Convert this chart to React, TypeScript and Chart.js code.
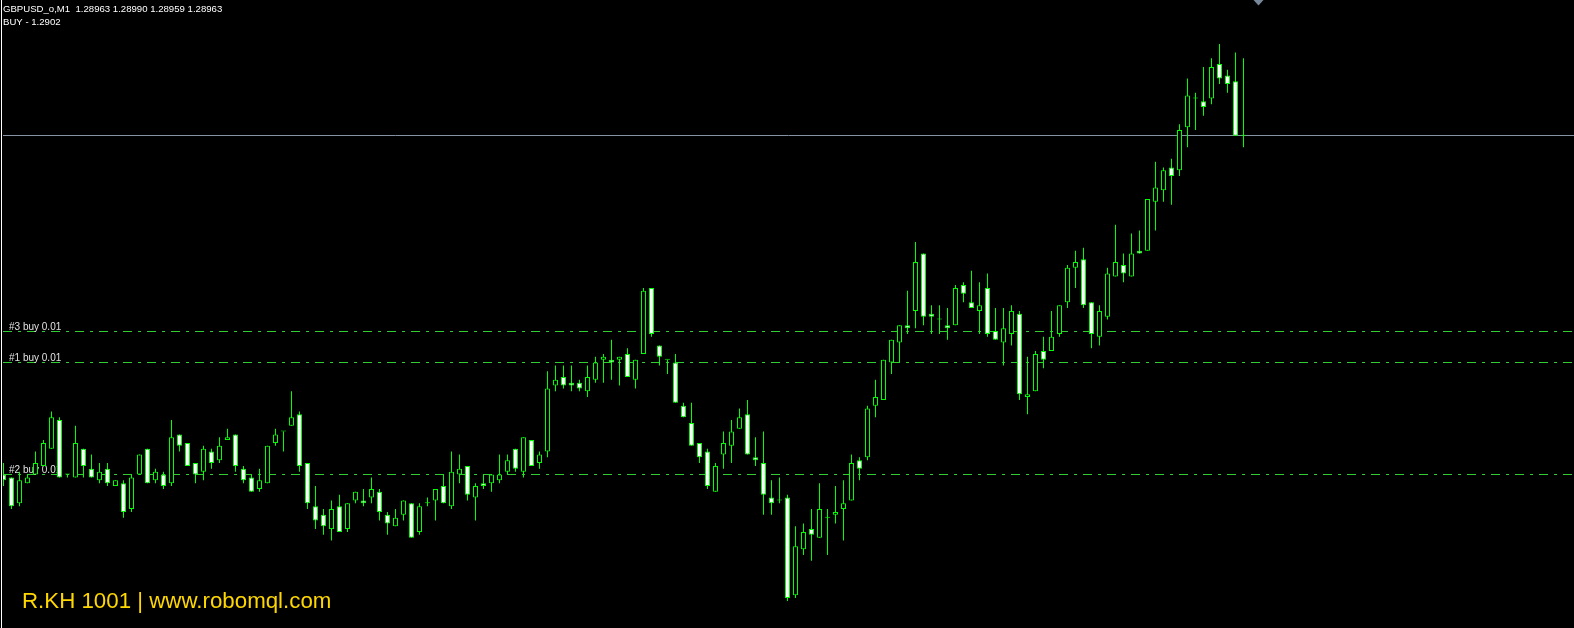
import React, { useEffect, useRef } from "react";
import { Chart, registerables } from "chart.js";

Chart.register(...registerables);

const symbolTitle = "GBPUSD_o,M1  1.28963 1.28990 1.28959 1.28963";
const commentText = "BUY - 1.2902";
const footerText = "R.KH 1001 | www.robomql.com";

const opens = [
  1.28845, 1.28844, 1.28835, 1.28842, 1.28845, 1.28848, 1.28854, 1.28864, 1.28845, 1.28844,
  1.28854, 1.28847, 1.28843, 1.28847, 1.28841, 1.28842, 1.28833, 1.28845, 1.28854, 1.28843,
  1.28845, 1.28842, 1.28859, 1.28856, 1.28849, 1.28846, 1.28853, 1.2885, 1.28857, 1.28859,
  1.28847, 1.28844, 1.2884, 1.28842, 1.28856, 1.2886, 1.28862, 1.28866, 1.28849, 1.28834,
  1.28831, 1.28826, 1.28834, 1.28826, 1.28836, 1.28836, 1.28837, 1.28839, 1.28831, 1.28827,
  1.28831, 1.28835, 1.28825, 1.28835, 1.28836, 1.28841, 1.28834, 1.28845, 1.28848, 1.28837,
  1.28842, 1.28842, 1.28843, 1.28846, 1.28854, 1.28846, 1.28857, 1.28849, 1.28853, 1.28876,
  1.28879, 1.28877, 1.28877, 1.28874, 1.28878, 1.28885, 1.28885, 1.28885, 1.28887, 1.28878,
  1.28887, 1.2891, 1.2889, 1.28885, 1.28884, 1.28869, 1.28863, 1.28856, 1.28853, 1.28839,
  1.28852, 1.28855, 1.28861, 1.28866, 1.28851, 1.28849, 1.28837, 1.28836, 1.28837, 1.28803,
  1.28819, 1.28826, 1.28823, 1.2883, 1.28831, 1.28833, 1.28836, 1.2885, 1.28851, 1.28869,
  1.28871, 1.28884, 1.28891, 1.28897, 1.28902, 1.28922, 1.28901, 1.28899, 1.28897, 1.28897,
  1.28911, 1.28905, 1.28902, 1.2891, 1.28895, 1.28891, 1.28894, 1.28901, 1.28872, 1.28874,
  1.28888, 1.28888, 1.28894, 1.28905, 1.28917, 1.2892, 1.28905, 1.28893, 1.289, 1.28914,
  1.28918, 1.28914, 1.28923, 1.28923, 1.2894, 1.28944, 1.28952, 1.28951, 1.28966, 1.28976,
  1.28975, 1.28976, 1.28988, 1.28984, 1.28982, 1.28963,
];

const highs = [
  1.28849, 1.28844, 1.28846, 1.28845, 1.28853, 1.28857, 1.28867, 1.28865, 1.28845, 1.28862,
  1.28854, 1.28852, 1.28849, 1.28849, 1.28843, 1.28843, 1.28845, 1.28852, 1.28854, 1.28847,
  1.28846, 1.28864, 1.28859, 1.28856, 1.28849, 1.28855, 1.28854, 1.28858, 1.28861, 1.28859,
  1.28848, 1.28845, 1.28847, 1.28855, 1.28861, 1.2886, 1.28874, 1.28867, 1.28849, 1.28841,
  1.28833, 1.28836, 1.28838, 1.28835, 1.28839, 1.2884, 1.28844, 1.2884, 1.28832, 1.28833,
  1.28836, 1.28835, 1.28835, 1.28837, 1.2884, 1.28845, 1.28853, 1.28852, 1.28848, 1.28842,
  1.28845, 1.28845, 1.28852, 1.28852, 1.28854, 1.28858, 1.28857, 1.28853, 1.28881, 1.28883,
  1.28883, 1.28883, 1.28878, 1.28883, 1.28886, 1.28887, 1.28892, 1.28886, 1.28889, 1.28885,
  1.2891, 1.2891, 1.2889, 1.28885, 1.28887, 1.2887, 1.2887, 1.28856, 1.28854, 1.28849,
  1.2886, 1.28864, 1.28868, 1.28871, 1.28858, 1.2886, 1.28843, 1.28844, 1.28838, 1.28827,
  1.28828, 1.28833, 1.28842, 1.28833, 1.28841, 1.28843, 1.28852, 1.28851, 1.28869, 1.28878,
  1.28885, 1.28892, 1.28897, 1.28909, 1.28926, 1.28922, 1.28904, 1.28904, 1.28903, 1.28911,
  1.28912, 1.28916, 1.28912, 1.28915, 1.28903, 1.28903, 1.28904, 1.28902, 1.28886, 1.28888,
  1.28893, 1.28902, 1.28904, 1.28918, 1.28923, 1.28924, 1.28905, 1.28904, 1.28917, 1.28932,
  1.28922, 1.28929, 1.2893, 1.28941, 1.28954, 1.28952, 1.28955, 1.28967, 1.28983, 1.28978,
  1.28987, 1.2899, 1.28995, 1.28986, 1.28992, 1.2899,
];

const lows = [
  1.28841, 1.28833, 1.28834, 1.28842, 1.28845, 1.28848, 1.28854, 1.28844, 1.28844, 1.28844,
  1.28844, 1.28844, 1.28842, 1.28841, 1.28841, 1.2883, 1.28832, 1.28845, 1.28842, 1.28842,
  1.2884, 1.28841, 1.28853, 1.28848, 1.28842, 1.28843, 1.28847, 1.28849, 1.28857, 1.28846,
  1.28842, 1.28839, 1.28839, 1.28842, 1.28855, 1.28853, 1.28862, 1.28846, 1.28833, 1.28826,
  1.28824, 1.28822, 1.28825, 1.28825, 1.28835, 1.28834, 1.28835, 1.28829, 1.28824, 1.28827,
  1.28829, 1.28823, 1.28824, 1.28834, 1.28829, 1.28835, 1.28833, 1.28842, 1.28836, 1.28829,
  1.2884, 1.28839, 1.28842, 1.28845, 1.28846, 1.28844, 1.28848, 1.28847, 1.28851, 1.28874,
  1.28875, 1.28874, 1.28874, 1.28872, 1.28877, 1.28877, 1.28878, 1.28876, 1.28879, 1.28875,
  1.28887, 1.28893, 1.28883, 1.2888, 1.2887, 1.28865, 1.28855, 1.28849, 1.2884, 1.28839,
  1.28847, 1.28849, 1.28861, 1.28852, 1.28848, 1.28831, 1.28831, 1.28835, 1.28801, 1.28802,
  1.28817, 1.28815, 1.28823, 1.28817, 1.28828, 1.28822, 1.28836, 1.28843, 1.2885, 1.28865,
  1.28871, 1.2888, 1.28884, 1.28894, 1.28896, 1.28897, 1.28894, 1.28894, 1.28892, 1.28897,
  1.28905, 1.28903, 1.28894, 1.28893, 1.28892, 1.28883, 1.2889, 1.28871, 1.28866, 1.28874,
  1.28882, 1.28888, 1.28893, 1.28903, 1.2891, 1.28903, 1.28889, 1.2889, 1.28899, 1.28914,
  1.28912, 1.28914, 1.28922, 1.28923, 1.2893, 1.2894, 1.28939, 1.28949, 1.28959, 1.28965,
  1.2897, 1.28974, 1.28981, 1.28978, 1.28963, 1.28959,
];

const closes = [
  1.28843, 1.28834, 1.28843, 1.28844, 1.28849, 1.28856, 1.28865, 1.28844, 1.28845, 1.28856,
  1.28848, 1.28844, 1.28846, 1.28842, 1.28843, 1.28832, 1.28844, 1.28852, 1.28842, 1.28846,
  1.28841, 1.28858, 1.28855, 1.28848, 1.28845, 1.28854, 1.28849, 1.28855, 1.28858, 1.28848,
  1.28843, 1.28839, 1.28843, 1.28855, 1.28859, 1.2886, 1.28865, 1.28848, 1.28835, 1.28829,
  1.28827, 1.28833, 1.28825, 1.28835, 1.28839, 1.28835, 1.2884, 1.28832, 1.28828, 1.2883,
  1.28836, 1.28823, 1.28834, 1.28835, 1.2884, 1.28835, 1.28846, 1.28847, 1.28838, 1.28841,
  1.28841, 1.28845, 1.28845, 1.2885, 1.28847, 1.28858, 1.28848, 1.28852, 1.28875, 1.28878,
  1.28876, 1.28876, 1.28875, 1.28879, 1.28884, 1.28886, 1.28884, 1.28886, 1.28879, 1.28885,
  1.28909, 1.28894, 1.28886, 1.28885, 1.2887, 1.28865, 1.28855, 1.28851, 1.28841, 1.28848,
  1.28856, 1.2886, 1.28865, 1.28852, 1.2885, 1.28838, 1.28835, 1.28836, 1.28802, 1.2882,
  1.28825, 1.28824, 1.28833, 1.2883, 1.28832, 1.28835, 1.28849, 1.28847, 1.28868, 1.28872,
  1.28885, 1.28892, 1.28897, 1.28896, 1.28919, 1.289, 1.289, 1.28899, 1.28896, 1.2891,
  1.28908, 1.28903, 1.28904, 1.28894, 1.28892, 1.28896, 1.28902, 1.28873, 1.28873, 1.28887,
  1.28885, 1.28893, 1.28904, 1.28917, 1.28919, 1.28904, 1.28894, 1.28902, 1.28915, 1.28919,
  1.28915, 1.28922, 1.28922, 1.28941, 1.28945, 1.28951, 1.28949, 1.28965, 1.28977, 1.28976,
  1.28973, 1.28987, 1.28983, 1.28981, 1.28963, 1.28963,
];

const bidPrice = 1.28963;
const orderNames = ["#3 buy 0.01", "#1 buy 0.01", "#2 buy 0.01"];
const orderPrices = [1.28895, 1.28884, 1.28845];

const priceMin = 1.2879156;
const priceMax = 1.290103;

const LIME = "#00ff00";
const ORDER_GREEN = "#32cd32";
const GRAY = "#8593a3";

const overlayPlugin = {
  id: "mt4Overlay",
  beforeDatasetsDraw(chart: any) {
    const ctx = chart.ctx as CanvasRenderingContext2D;
    const ys = chart.scales.y;
    const W = chart.width;
    ctx.save();
    const by = Math.floor(ys.getPixelForValue(bidPrice)) + 0.5;
    ctx.strokeStyle = GRAY;
    ctx.lineWidth = 1;
    ctx.beginPath();
    ctx.moveTo(3, by);
    ctx.lineTo(W, by);
    ctx.stroke();
    ctx.strokeStyle = ORDER_GREEN;
    ctx.setLineDash([9, 6, 3, 6]);
    orderPrices.forEach((p) => {
      const y = Math.floor(ys.getPixelForValue(p)) + 0.5;
      ctx.beginPath();
      ctx.moveTo(3, y);
      ctx.lineTo(W, y);
      ctx.stroke();
    });
    ctx.setLineDash([]);
    ctx.font = '10px "Liberation Sans", Arial, sans-serif';
    ctx.textBaseline = "alphabetic";
    ctx.fillStyle = "#e0e0e0";
    orderPrices.forEach((p, i) => {
      const y = Math.floor(ys.getPixelForValue(p));
      ctx.fillText(orderNames[i], 9, y - 1.5);
    });
    ctx.restore();
  },
  afterDraw(chart: any) {
    const ctx = chart.ctx as CanvasRenderingContext2D;
    const H = chart.height;
    ctx.save();
    ctx.fillStyle = "#000000";
    ctx.fillRect(0, 0, 3, H);
    ctx.fillStyle = "#ffffff";
    ctx.fillRect(1, 0, 1, H);
    ctx.font = '9.6px "Liberation Sans", Arial, sans-serif';
    ctx.fillStyle = "#ffffff";
    ctx.textBaseline = "alphabetic";
    ctx.fillText(symbolTitle, 3, 12);
    ctx.fillText(commentText, 3, 25);
    ctx.font = '22.3px "Liberation Sans", Arial, sans-serif';
    ctx.fillStyle = "#ffd700";
    ctx.fillText(footerText, 22, 608);
    ctx.fillStyle = "#778899";
    ctx.beginPath();
    ctx.moveTo(1253.5, 0);
    ctx.lineTo(1263.5, 0);
    ctx.lineTo(1258.5, 5.5);
    ctx.closePath();
    ctx.fill();
    ctx.restore();
  },
};

export default function App() {
  const canvasRef = useRef<HTMLCanvasElement | null>(null);

  useEffect(() => {
    document.body.style.margin = "0";
    document.body.style.background = "#000";
    document.body.style.overflow = "hidden";
    const canvas = canvasRef.current;
    if (!canvas) return;

    const bodyColors = opens.map((o, i) =>
      closes[i] > o ? "#000000" : closes[i] < o ? "#ffffff" : LIME
    );

    const chart = new Chart(canvas, {
      type: "bar",
      data: {
        datasets: [
          {
            label: "body",
            data: opens.map((o, i) => ({ x: i, y: [o, closes[i]] })) as any,
            backgroundColor: bodyColors,
            borderColor: LIME,
            borderWidth: 1,
            borderSkipped: false,
            grouped: false,
            barPercentage: 0.625,
            categoryPercentage: 1,
            minBarLength: 1,
            inflateAmount: 0,
            order: 0,
          } as any,
          {
            label: "wick",
            data: lows.map((l, i) => ({ x: i, y: [l, highs[i]] })) as any,
            backgroundColor: LIME,
            borderWidth: 0,
            borderSkipped: false,
            grouped: false,
            barPercentage: 0.125,
            categoryPercentage: 1,
            minBarLength: 1,
            inflateAmount: 0,
            order: 1,
          } as any,
        ],
      },
      options: {
        animation: false,
        responsive: false,
        maintainAspectRatio: false,
        devicePixelRatio: 1,
        layout: { padding: 0 },
        events: [],
        plugins: {
          legend: { display: false },
          tooltip: { enabled: false },
        },
        scales: {
          x: {
            type: "linear",
            display: false,
            min: -0.4375,
            max: 196.3125,
            offset: false,
            bounds: "data",
          },
          y: {
            type: "linear",
            display: false,
            min: priceMin,
            max: priceMax,
            beginAtZero: false,
            bounds: "data",
          },
        },
      } as any,
      plugins: [overlayPlugin],
    });
    return () => chart.destroy();
  }, []);

  return (
    <div
      style={{
        position: "fixed",
        left: 0,
        top: 0,
        width: 1574,
        height: 628,
        background: "#000000",
      }}
    >
      <canvas ref={canvasRef} width={1574} height={628} style={{ display: "block" }} />
    </div>
  );
}
